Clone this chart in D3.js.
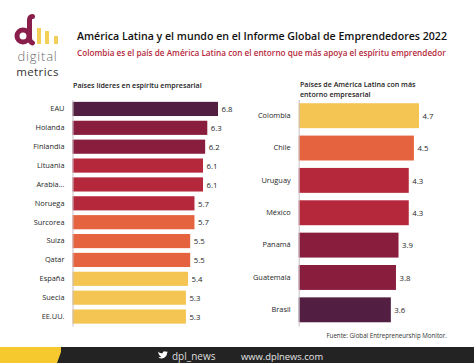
<!DOCTYPE html>
<html>
<head>
<meta charset="utf-8">
<script src="https://cdn.jsdelivr.net/npm/d3@7"></script>
<style>
  html, body { margin: 0; padding: 0; background: #fff; }
  text { font-family: "Open Sans", sans-serif; }
</style>
</head>
<body>
<div id="app"></div>
<script>
const leaderNames = ['EAU', 'Holanda', 'Finlandia', 'Lituania', 'Arabia...', 'Noruega', 'Surcorea', 'Suiza', 'Qatar', 'España', 'Suecia', 'EE.UU.'];
const leaderValues = [6.8, 6.3, 6.2, 6.1, 6.1, 5.7, 5.7, 5.5, 5.5, 5.4, 5.3, 5.3];
const leaderColors = ['#521e41', '#881d3e', '#881d3e', '#b5283c', '#b5283c', '#b5283c', '#e5633f', '#e5633f', '#e5633f', '#f4c553', '#f4c553', '#f4c553'];

const latamNames = ['Colombia', 'Chile', 'Uruguay', 'México', 'Panamá', 'Guatemala', 'Brasil'];
const latamValues = [4.7, 4.5, 4.3, 4.3, 3.9, 3.8, 3.6];
const latamColors = ['#f4c553', '#e5633f', '#b5283c', '#b5283c', '#881d3e', '#881d3e', '#521e41'];

const width = 474;
const height = 363;

const wrapper = d3.select('#app')
  .append('svg')
    .attr('width', width)
    .attr('height', height)
    .style('display', 'block');

function drawBars(names, values, colors, box) {
  const data = names.map((name, i) => ({ name, value: values[i], color: colors[i] }));

  const xScale = d3.scaleLinear()
    .domain([0, box.maxValue])
    .range([box.left, box.right]);

  const yScale = d3.scaleBand()
    .domain(names)
    .range([box.top, box.bottom])
    .paddingInner(box.padding)
    .paddingOuter(box.padding / 2);

  const bounds = wrapper.append('g');

  bounds.selectAll('rect')
    .data(data)
    .join('rect')
      .attr('x', box.left)
      .attr('y', d => yScale(d.name))
      .attr('width', d => xScale(d.value) - box.left)
      .attr('height', yScale.bandwidth())
      .attr('fill', d => d.color);

  const yAxis = bounds.append('g')
    .attr('transform', `translate(${box.left}, 0)`)
    .call(d3.axisLeft(yScale).tickSize(0).tickPadding(8));
  yAxis.select('.domain').attr('stroke', '#c9bfc4');
  yAxis.selectAll('text')
    .attr('fill', '#262626')
    .style('font-size', '7.4px')
    .style('font-weight', 500);

  bounds.selectAll('text.value')
    .data(data)
    .join('text')
      .attr('class', 'value')
      .attr('x', d => xScale(d.value) + 3.5)
      .attr('y', d => yScale(d.name) + yScale.bandwidth() / 2 + 3.2)
      .attr('fill', '#262626')
      .style('font-size', '7.8px')
      .style('font-weight', 500)
      .text(d => d.value.toFixed(1));
}

drawBars(leaderNames, leaderValues, leaderColors, {
  left: 72.5, right: 218, maxValue: 6.8, top: 99.5, bottom: 326, padding: 0.25,
});
drawBars(latamNames, latamValues, latamColors, {
  left: 298.7, right: 419, maxValue: 4.7, top: 99.5, bottom: 326, padding: 0.23,
});

// titles
const addText = (x, y, str, size, weight, color, anchor = 'start') => wrapper.append('text')
  .attr('x', x)
  .attr('y', y)
  .attr('fill', color)
  .attr('text-anchor', anchor)
  .style('font-size', `${size}px`)
  .style('font-weight', weight)
  .text(str);

addText(77, 39.5, 'América Latina y el mundo en el Informe Global de Emprendedores 2022', 10.6, 600, '#111');
addText(77, 56, 'Colombia es el país de América Latina con el entorno que más apoya el espíritu emprendedor', 8.2, 600, '#b5283c');
addText(73, 88, 'Países líderes en espíritu empresarial', 7.15, 600, '#222');
addText(300, 87, 'Países de América Latina con más', 7.1, 600, '#222');
addText(300, 97, 'entorno empresarial', 7.1, 600, '#222');
addText(447, 338, 'Fuente: Global Entrepreneurship Monitor.', 6.2, 500, '#333', 'end');

// logo
const logo = wrapper.append('g');
logo.append('circle').attr('cx', 23).attr('cy', 36).attr('r', 6)
  .attr('fill', 'none').attr('stroke', '#8a1e4a').attr('stroke-width', 5);
logo.append('path')
  .attr('d', 'M32.500 16.500 C29 16.500 29.500 20 29.500 24 L29.500 38 C29.500 41 30.500 42 32.500 43')
  .attr('fill', 'none').attr('stroke', '#8a1e4a').attr('stroke-width', 5)
  .attr('stroke-linecap', 'round');
logo.selectAll('rect')
  .data([[37, 28, 4, 16], [45, 31, 4, 13], [54, 36, 4, 8]])
  .join('rect')
    .attr('x', d => d[0])
    .attr('y', d => d[1])
    .attr('width', d => d[2])
    .attr('height', d => d[3])
    .attr('fill', '#f2cf58');
addText(37.5, 60.5, 'digital', 13, 300, '#6b6b6b', 'middle').style('letter-spacing', '0.8px');
addText(37.5, 76, 'metrics', 11.5, 400, '#333', 'middle').style('letter-spacing', '0.4px');

// footer
wrapper.append('rect').attr('x', 0).attr('y', 347).attr('width', width).attr('height', 16).attr('fill', '#232323');
wrapper.append('path').attr('d', 'M0 347 L61 347 L61 352 L57 363 L0 363 Z').attr('fill', '#f6c92f');
wrapper.append('path')
  .attr('transform', 'translate(158, 351) scale(0.77) translate(-158, -352)')
  .attr('d', 'M158 352.500 C160 354.500 162 355 164 355 C164 352.500 167 351.500 168.500 353 L170.500 352.500 L169.500 354 L170.800 353.700 L169.700 355 C169.700 360 164 363.500 158.500 360.500 C160.500 360.500 161.500 360 162.500 359.300 C160.500 359 159.700 358 159.300 357 L160.500 357 C159 356.300 158.300 355.300 158.300 354.300 L159.500 354.700 C158.300 354 158 353 158 352.500 Z')
  .attr('fill', '#fff');
addText(172, 359.5, 'dpl_news', 10, 400, '#ddd');
addText(241, 359.5, 'www.dplnews.com', 9.4, 400, '#e6e6e6');
</script>
</body>
</html>
